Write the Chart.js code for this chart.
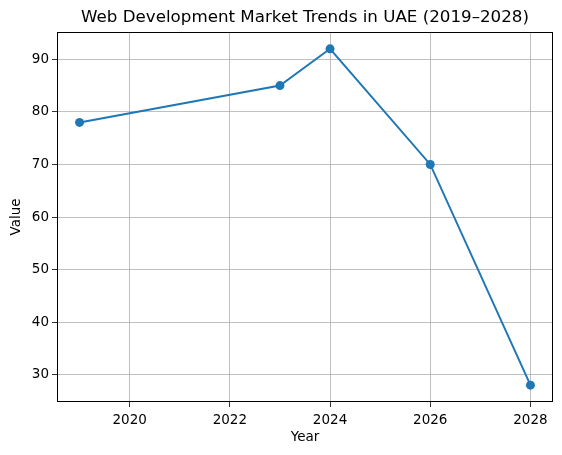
<!DOCTYPE html>
<html>
<head>
<meta charset="utf-8">
<script src="https://cdn.jsdelivr.net/npm/chart.js@4/dist/chart.umd.min.js"></script>
<style>
  html, body { margin: 0; padding: 0; background: #fff; }
  #wrap { width: 562px; height: 455px; position: relative; }
</style>
</head>
<body>
<div id="wrap"><canvas id="chart"></canvas></div>
<script>
// Chart data
const years = [2019, 2023, 2024, 2026, 2028];
const values = [78, 85, 92, 70, 28];
const xTicks = [2020, 2022, 2024, 2026, 2028];
const yTicks = [30, 40, 50, 60, 70, 80, 90];

const titleText = 'Web Development Market Trends in UAE (2019\u20132028)';
const fontFamily = '"DejaVu Sans", sans-serif';

// Title and axes frame, drawn like matplotlib
const framePlugin = {
    id: 'frame',
    afterDraw(chart) {
        const { ctx, chartArea } = chart;
        ctx.save();
        ctx.strokeStyle = '#000';
        ctx.lineWidth = 1;
        ctx.strokeRect(chartArea.left + 0.5, chartArea.top + 0.5,
            chartArea.right - chartArea.left - 1, chartArea.bottom - chartArea.top - 1);
        ctx.fillStyle = '#000';
        ctx.font = '16.7px ' + fontFamily;
        ctx.textAlign = 'center';
        ctx.textBaseline = 'middle';
        ctx.fillText(titleText, (chartArea.left + chartArea.right) / 2, 18);
        ctx.restore();
    }
};

document.addEventListener('DOMContentLoaded', function() {
    const ctx = document.getElementById('chart');
    new Chart(ctx, {
        type: 'line',
        data: {
            datasets: [{
                label: 'Value',
                data: years.map((y, i) => ({ x: y, y: values[i] })),
                borderColor: '#1f77b4',
                backgroundColor: '#1f77b4',
                borderWidth: 2,
                pointRadius: 4.5,
                pointHoverRadius: 4.5,
                pointBorderWidth: 0,
                tension: 0,
                fill: false
            }]
        },
        options: {
            responsive: true,
            maintainAspectRatio: false,
            animation: false,
            layout: { padding: { top: 32, right: 9, left: 0, bottom: 0 } },
            plugins: {
                legend: { display: false },
                title: { display: false },
                tooltip: { enabled: false }
            },
            scales: {
                x: {
                    type: 'linear',
                    min: 2018.55,
                    max: 2028.45,
                    afterBuildTicks: axis => { axis.ticks = xTicks.map(v => ({ value: v })); },
                    afterFit: axis => { axis.height = 53; },
                    grid: { color: '#b0b0b0', lineWidth: 0.8, tickColor: '#000', tickLength: 5 },
                    border: { display: false },
                    ticks: {
                        color: '#000',
                        padding: 5,
                        font: { family: fontFamily, size: 13.5 },
                        callback: v => String(v),
                        maxRotation: 0
                    },
                    title: {
                        display: true,
                        text: 'Year',
                        color: '#000',
                        font: { family: fontFamily, size: 13.5 },
                        padding: { top: 0, bottom: 9 }
                    }
                },
                y: {
                    min: 24.8,
                    max: 95.2,
                    afterBuildTicks: axis => { axis.ticks = yTicks.map(v => ({ value: v })); },
                    afterFit: axis => { axis.width = 57; },
                    grid: { color: '#b0b0b0', lineWidth: 0.8, tickColor: '#000', tickLength: 5 },
                    border: { display: false },
                    ticks: {
                        color: '#000',
                        padding: 3,
                        font: { family: fontFamily, size: 13.5 },
                        callback: v => String(v)
                    },
                    title: {
                        display: true,
                        text: 'Value',
                        color: '#000',
                        font: { family: fontFamily, size: 13.5 },
                        padding: { top: 8, bottom: 0 }
                    }
                }
            }
        },
        plugins: [framePlugin]
    });
});
</script>
</body>
</html>
